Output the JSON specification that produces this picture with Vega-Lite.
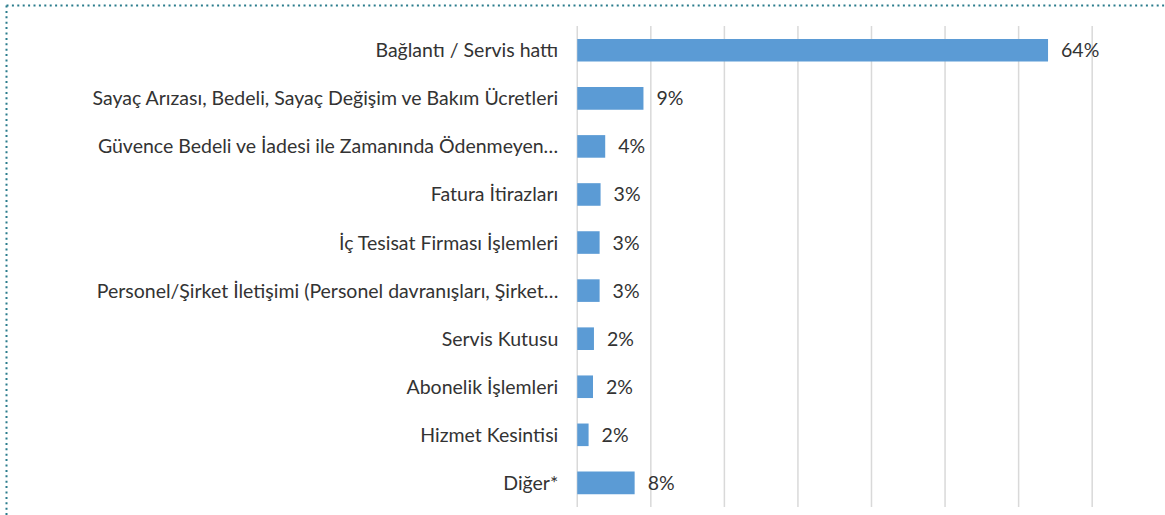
{
  "$schema": "https://vega.github.io/schema/vega-lite/v6.json",
  "width": 1159,
  "height": 510,
  "autosize": "none",
  "padding": {"left": 6, "top": 5, "right": 0, "bottom": 0},
  "background": "white",
  "config": {
    "view": {"stroke": null},
    "font": "Lato",
    "text": {"font": "Lato"}
  },
  "datasets": {
    "bars": [
      {"kategori": "Bağlantı / Servis hattı", "deger": 64.0, "etiket": "64%"},
      {"kategori": "Sayaç Arızası, Bedeli, Sayaç Değişim ve Bakım Ücretleri", "deger": 9.0, "etiket": "9%"},
      {"kategori": "Güvence Bedeli ve İadesi ile Zamanında Ödenmeyen…", "deger": 3.8, "etiket": "4%"},
      {"kategori": "Fatura İtirazları", "deger": 3.17, "etiket": "3%"},
      {"kategori": "İç Tesisat Firması İşlemleri", "deger": 3.04, "etiket": "3%"},
      {"kategori": "Personel/Şirket İletişimi (Personel davranışları, Şirket…", "deger": 3.04, "etiket": "3%"},
      {"kategori": "Servis Kutusu", "deger": 2.27, "etiket": "2%"},
      {"kategori": "Abonelik İşlemleri", "deger": 2.14, "etiket": "2%"},
      {"kategori": "Hizmet Kesintisi", "deger": 1.54, "etiket": "2%"},
      {"kategori": "Diğer*", "deger": 7.8, "etiket": "8%"}
    ],
    "grid": [
      {"t": 0}, {"t": 10}, {"t": 20}, {"t": 30}, {"t": 40}, {"t": 50}, {"t": 60}, {"t": 70}
    ]
  },
  "layer": [
    {
      "data": {"name": "grid"},
      "mark": {"type": "rule", "color": "#d9d9d9", "strokeWidth": 1.5},
      "encoding": {
        "x": {"field": "t", "type": "quantitative", "scale": {"domain": [-77.66, 79.9], "nice": false, "zero": false}, "axis": {"orient": "top", "title": null, "labels": false, "ticks": false, "grid": false, "domain": true, "domainColor": "#2b7c8c", "domainWidth": 2, "domainDash": [2, 3.4]}},
        "y": {"datum": 0, "type": "quantitative", "scale": {"domain": [-0.01663, 1.04366], "nice": false, "zero": false}, "axis": null},
        "y2": {"datum": 1}
      }
    },
    {
      "data": {"name": "bars"},
      "layer": [
        {
          "mark": {"type": "bar", "color": "#5b9bd5"},
          "encoding": {
            "x": {"field": "deger", "type": "quantitative"},
            "y": {"field": "kategori", "type": "nominal", "sort": null, "scale": {"paddingInner": 0.53, "paddingOuter": 0.57, "align": 0.62}, "axis": {"title": null, "labels": false, "ticks": false, "grid": false, "domain": true, "domainColor": "#2b7c8c", "domainWidth": 2, "domainDash": [2, 3.4]}}
          }
        },
        {
          "mark": {"type": "text", "align": "right", "baseline": "middle", "dx": -19, "dy": 1, "fontSize": 19.5, "color": "#333333"},
          "encoding": {
            "x": {"datum": 0, "type": "quantitative"},
            "y": {"field": "kategori", "type": "nominal", "sort": null},
            "text": {"field": "kategori"}
          }
        },
        {
          "mark": {"type": "text", "align": "left", "baseline": "middle", "dx": 13, "dy": 1, "fontSize": 19.5, "color": "#333333"},
          "encoding": {
            "x": {"field": "deger", "type": "quantitative"},
            "y": {"field": "kategori", "type": "nominal", "sort": null},
            "text": {"field": "etiket"}
          }
        }
      ]
    }
  ],
  "resolve": {"scale": {"y": "independent"}, "axis": {"y": "independent"}}
}
